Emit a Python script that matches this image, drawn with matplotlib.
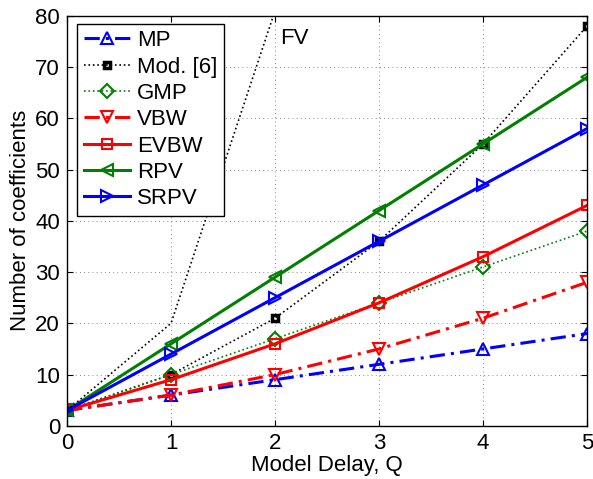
import matplotlib
matplotlib.use("Agg")
import matplotlib.pyplot as plt
import numpy as np

plt.rcParams['font.family'] = ['Liberation Sans', 'DejaVu Sans']
plt.rcParams['font.size'] = 16

Q = np.array([0, 1, 2, 3, 4, 5])
Q_fv = np.array([0, 1, 2])

mp = [3, 6, 9, 12, 15, 18]
mod6 = [3, 10, 21, 36, 55, 78]
gmp = [3, 10, 17, 24, 31, 38]
vbw = [3, 6, 10, 15, 21, 28]
evbw = [3, 9, 16, 24, 33, 43]
rpv = [3, 16, 29, 42, 55, 68]
srpv = [3, 14, 25, 36, 47, 58]
fv = [3, 20, 81]

blue = (0, 0, 1)
green = (0, 0.5, 0)
red = (1, 0, 0)

fig = plt.figure(figsize=(5.93, 4.79), dpi=100)
ax = fig.add_axes([0.113, 0.111, 0.877, 0.856])

ms = 9
mew = 1.5
dashdot = (5, 2, 1, 2)

ax.plot(Q, mp, color=blue, lw=2.2, dashes=dashdot, marker='^', ms=ms, mfc='none', mew=mew, label='MP')
ax.plot(Q, mod6, color='k', lw=1.2, ls=':', marker='s', ms=5, mfc='none', mew=2.5, label='Mod. [6]')
ax.plot(Q, gmp, color=green, lw=1.2, ls=':', marker='D', ms=7, mfc='none', mew=mew, label='GMP')
ax.plot(Q, vbw, color=red, lw=2.2, dashes=dashdot, marker='v', ms=ms, mfc='none', mew=mew, label='VBW')
ax.plot(Q, evbw, color=red, lw=2.2, marker='s', ms=7, mfc='none', mew=mew, label='EVBW')
ax.plot(Q, rpv, color=green, lw=2.2, marker='<', ms=ms, mfc='none', mew=mew, label='RPV')
ax.plot(Q, srpv, color=blue, lw=2.2, marker='>', ms=ms, mfc='none', mew=mew, label='SRPV')
ax.plot(Q_fv, fv, color='k', lw=1.2, ls=':')
ax.text(2.05, 75.5, 'FV', fontsize=16, va='center', ha='left')

ax.set_xlim(0, 5)
ax.set_ylim(0, 80)
ax.set_xticks(range(0, 6))
ax.set_yticks(range(0, 81, 10))
ax.grid(True, color='k', ls=(0, (1, 4)), lw=0.6, alpha=0.6)
ax.tick_params(direction='in', top=True, right=True, labelsize=16, length=4, pad=5)
for s in ax.spines.values():
    s.set_linewidth(1.0)

ax.set_xlabel('Model Delay, Q', fontsize=16, labelpad=1)
ax.set_ylabel('Number of coefficients', fontsize=16, labelpad=3)

leg = ax.legend(loc='upper left', bbox_to_anchor=(0.019, 0.981), fontsize=16,
                handlelength=2.1, handletextpad=0.3, labelspacing=0.24,
                borderpad=0.3, borderaxespad=0, fancybox=False, framealpha=1,
                edgecolor='k')
leg.get_frame().set_linewidth(1.0)

fig.savefig('out.png', dpi=100)
